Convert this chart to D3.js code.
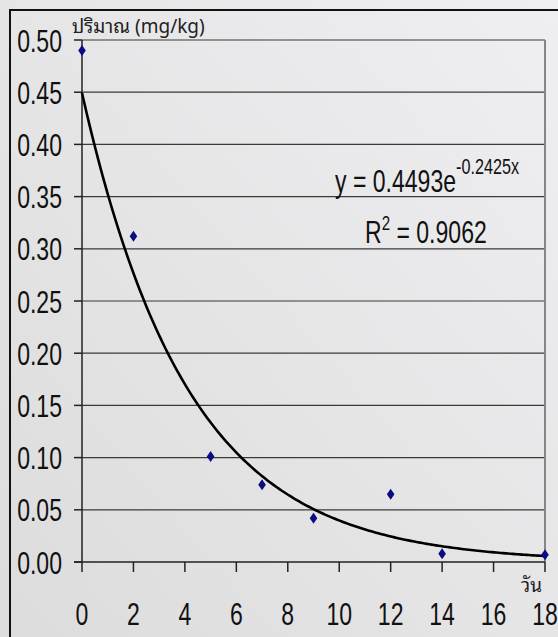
<!DOCTYPE html>
<html>
<head>
<meta charset="utf-8">
<script src="https://cdn.jsdelivr.net/npm/d3@7"></script>
<style>
  html, body { margin: 0; padding: 0; background: #e6e6e8; }
  svg { display: block; }
</style>
</head>
<body>
<svg id="chart" width="558" height="637"></svg>
<script>
// Residue measurements: day vs. amount (mg/kg)
const days    = [0, 2, 5, 7, 9, 12, 14, 18];
const amounts = [0.490, 0.312, 0.101, 0.074, 0.042, 0.065, 0.008, 0.007];

// Exponential trendline y = a * e^(b x) and its goodness of fit
const fitA = 0.4493;
const fitB = -0.2425;
const fitR2 = 0.9062;

const yTicks = [0, 0.05, 0.10, 0.15, 0.20, 0.25, 0.30, 0.35, 0.40, 0.45, 0.50];
const xTicks = [0, 2, 4, 6, 8, 10, 12, 14, 16, 18];

const yTitle = "ปริมาณ (mg/kg)";
const xTitle = "วัน";

const W = 558, H = 637;
const plot = { left: 82, right: 545, top: 40, bottom: 562 };
const digitFont = "'Liberation Sans', Arial, sans-serif";
const thaiFont = "'Noto Sans Thai Looped', 'Noto Serif Thai', 'Noto Sans Thai', Loma, Garuda, 'Tlwg Typo', 'DejaVu Sans', sans-serif";
const squeeze = 0.72;

const svg = d3.select("#chart");

// soft grey backdrop
const defs = svg.append("defs");
const grad = defs.append("linearGradient")
  .attr("id", "bg").attr("x1", 1).attr("y1", 0).attr("x2", 0).attr("y2", 1);
grad.append("stop").attr("offset", 0).attr("stop-color", "#efeff1");
grad.append("stop").attr("offset", 1).attr("stop-color", "#dcdcdd");
svg.append("rect").attr("width", W).attr("height", H).attr("fill", "url(#bg)");

// outer frame (runs off the right and bottom edges)
svg.append("rect")
  .attr("x", 10).attr("y", 10).attr("width", W + 40).attr("height", H + 40)
  .attr("fill", "none").attr("stroke", "#111").attr("stroke-width", 2);

const x = d3.scaleLinear().domain([0, 18]).range([plot.left, plot.right]);
const y = d3.scaleLinear().domain([0, 0.5]).range([plot.bottom, plot.top]);

// horizontal gridlines
svg.append("g").selectAll("line")
  .data(yTicks.filter(t => t > 0))
  .join("line")
  .attr("x1", plot.left).attr("x2", plot.right)
  .attr("y1", d => y(d)).attr("y2", d => y(d))
  .attr("stroke", "#3a3a3a").attr("stroke-width", 1.2);

// right edge of plot area
svg.append("line")
  .attr("x1", plot.right).attr("x2", plot.right)
  .attr("y1", plot.top).attr("y2", plot.bottom)
  .attr("stroke", "#858585").attr("stroke-width", 2);

// y axis
svg.append("line")
  .attr("x1", plot.left).attr("x2", plot.left)
  .attr("y1", plot.top).attr("y2", plot.bottom)
  .attr("stroke", "#222").attr("stroke-width", 1.5);
svg.append("g").selectAll("line")
  .data(yTicks).join("line")
  .attr("x1", plot.left - 8).attr("x2", plot.left)
  .attr("y1", d => y(d)).attr("y2", d => y(d))
  .attr("stroke", "#222").attr("stroke-width", 1.5);
svg.append("g").selectAll("text")
  .data(yTicks).join("text")
  .attr("transform", d => `translate(62,${y(d) + 11.5}) scale(${squeeze},1)`)
  .attr("text-anchor", "end")
  .attr("font-family", digitFont).attr("font-size", 32).attr("fill", "#111")
  .text(d => d.toFixed(2));

// x axis
svg.append("line")
  .attr("x1", plot.left - 8).attr("x2", plot.right)
  .attr("y1", plot.bottom).attr("y2", plot.bottom)
  .attr("stroke", "#222").attr("stroke-width", 1.5);
svg.append("g").selectAll("line")
  .data(xTicks).join("line")
  .attr("x1", d => x(d)).attr("x2", d => x(d))
  .attr("y1", plot.bottom).attr("y2", plot.bottom + 10)
  .attr("stroke", "#222").attr("stroke-width", 1.5);
svg.append("g").selectAll("text")
  .data(xTicks).join("text")
  .attr("transform", d => `translate(${x(d)},625) scale(${squeeze},1)`)
  .attr("text-anchor", "middle")
  .attr("font-family", digitFont).attr("font-size", 32).attr("fill", "#111")
  .text(d => d);

// axis titles
svg.append("text")
  .attr("x", 72).attr("y", 33)
  .attr("font-family", thaiFont).attr("font-size", 19).attr("fill", "#222")
  .text(yTitle);
svg.append("text")
  .attr("x", 542).attr("y", 592).attr("text-anchor", "end")
  .attr("font-family", thaiFont).attr("font-size", 19).attr("fill", "#222")
  .text(xTitle);

// trendline sampled from the fitted equation
const curveX = d3.range(0, 18.001, 0.09);
const trend = d3.line()
  .x(d => x(d))
  .y(d => y(fitA * Math.exp(fitB * d)));
svg.append("path")
  .datum(curveX)
  .attr("d", trend)
  .attr("fill", "none").attr("stroke", "#000").attr("stroke-width", 2.6)
  .attr("stroke-linejoin", "round");

// data markers (diamonds)
svg.append("g").selectAll("path")
  .data(days.map((d, i) => [d, amounts[i]]))
  .join("path")
  .attr("transform", d => `translate(${x(d[0])},${y(d[1])})`)
  .attr("d", "M0,-5.5L3.8,0L0,5.5L-3.8,0Z")
  .attr("fill", "#0b0b82");

// trendline equation and R²
const eq = svg.append("text")
  .attr("transform", `translate(335,192) scale(${squeeze},1)`)
  .attr("font-family", digitFont).attr("font-size", 32).attr("fill", "#111");
eq.append("tspan").text(`y = ${fitA}e`);
eq.append("tspan").attr("font-size", 22.5).attr("dy", -18).text(`${fitB}x`);

const r2 = svg.append("text")
  .attr("transform", `translate(365,243) scale(${squeeze},1)`)
  .attr("font-family", digitFont).attr("font-size", 32).attr("fill", "#111");
r2.append("tspan").text("R");
r2.append("tspan").attr("font-size", 21).attr("dy", -13).text("2");
r2.append("tspan").attr("dy", 13).text(` = ${fitR2}`);
</script>
</body>
</html>
